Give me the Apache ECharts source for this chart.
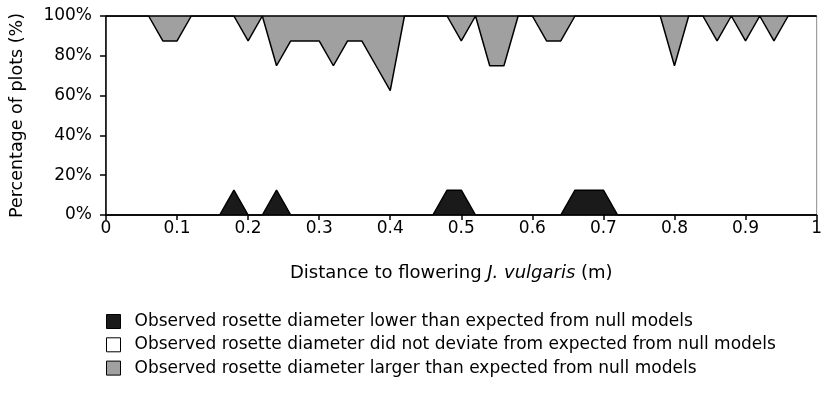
<!DOCTYPE html>
<html>
<head>
<meta charset="utf-8">
<script src="https://cdn.jsdelivr.net/npm/echarts@6/dist/echarts.min.js"></script>
<style>html,body{margin:0;padding:0;background:#fff}#c{width:825px;height:401px}</style>
</head>
<body>
<div id="c"></div>
<script>
var distances = ['0','0.02','0.04','0.06','0.08','0.1','0.12','0.14','0.16','0.18','0.2','0.22','0.24','0.26','0.28','0.3','0.32','0.34','0.36','0.38','0.4','0.42','0.44','0.46','0.48','0.5','0.52','0.54','0.56','0.58','0.6','0.62','0.64','0.66','0.68','0.7','0.72','0.74','0.76','0.78','0.8','0.82','0.84','0.86','0.88','0.9','0.92','0.94','0.96','0.98','1'];
var lower = [0,0,0,0,0,0,0,0,0,12.5,0,0,12.5,0,0,0,0,0,0,0,0,0,0,0,12.5,12.5,0,0,0,0,0,0,0,12.5,12.5,12.5,0,0,0,0,0,0,0,0,0,0,0,0,0,0,0];
var notDeviate = [100,100,100,100,87.5,87.5,100,100,100,87.5,87.5,100,62.5,87.5,87.5,87.5,75,87.5,87.5,75,62.5,100,100,100,87.5,75,100,75,75,100,100,87.5,87.5,87.5,87.5,87.5,100,100,100,100,75,100,100,87.5,100,87.5,100,87.5,100,100,100];
var larger = [0,0,0,0,12.5,12.5,0,0,0,0,12.5,0,25,12.5,12.5,12.5,25,12.5,12.5,25,37.5,0,0,0,0,12.5,0,25,25,0,0,12.5,12.5,0,0,0,0,0,0,0,25,0,0,12.5,0,12.5,0,12.5,0,0,0];
var seriesNames = [
  'Observed rosette diameter lower than expected from null models',
  'Observed rosette diameter did not deviate from expected from null models',
  'Observed rosette diameter larger than expected from null models'
];
var fills = ['#1a1a1a', '#ffffff', '#a0a0a0'];
var values = [lower, notDeviate, larger];

var FONT = 'DejaVu Sans, sans-serif';
var FS = 17;
var chart = echarts.init(document.getElementById('c'), null, {renderer:'canvas'});
var series = values.map(function(v, k){
  return {
    name: seriesNames[k],
    type: 'line',
    stack: 'all',
    data: v,
    symbol: 'none',
    color: fills[k],
    lineStyle: {color: '#000', width: 1.5},
    areaStyle: {color: fills[k], opacity: 1},
    z: 2,
    animation: false
  };
});
chart.setOption({
  animation: false,
  grid: {left: 106, right: 5, top: 16, bottom: 186, show: true, borderColor: '#000', borderWidth: 1, backgroundColor: 'transparent'},
  xAxis: {
    type: 'category', data: distances, boundaryGap: false, z: 10,
    axisLine: {show: true, lineStyle: {color: '#000', width: 1.5}},
    axisTick: {show: true, length: 5, interval: 4, lineStyle: {color: '#000', width: 1.5}},
    axisLabel: {color: '#000', fontSize: FS, fontFamily: FONT, margin: 5, interval: 4},
    splitLine: {show: false},
    name: 'Distance to flowering {i|J. vulgaris} (m)',
    nameLocation: 'middle', nameGap: 49,
    nameTextStyle: {color: '#000', fontSize: 18, fontFamily: FONT, padding: [0, 20, 0, 0],
      rich: {i: {fontStyle: 'italic', color: '#000', fontSize: 18, fontFamily: FONT}}}
  },
  yAxis: {
    type: 'value', min: 0, max: 100, interval: 20, z: 10,
    axisLine: {show: true, lineStyle: {color: '#000', width: 1.5}},
    axisTick: {show: true, length: 6, lineStyle: {color: '#000', width: 1.5}},
    axisLabel: {color: '#000', fontSize: FS, fontFamily: FONT, margin: 14, formatter: '{value}%'},
    splitLine: {show: false},
    name: 'Percentage of plots (%)',
    nameLocation: 'middle', nameGap: 80,
    nameTextStyle: {color: '#000', fontSize: 17.5, fontFamily: FONT}
  },
  legend: {
    orient: 'vertical', left: 101, top: 308,
    icon: 'rect', itemWidth: 14, itemHeight: 14, itemGap: 6.3,
    selectedMode: false,
    textStyle: {color: '#000', fontSize: FS, fontFamily: FONT, padding: [0,0,0,9]},
    data: seriesNames.map(function(n, k){
      return {name: n, itemStyle: {color: fills[k], borderColor: '#000', borderWidth: 1}};
    })
  },
  series: series
});
</script>
</body>
</html>
